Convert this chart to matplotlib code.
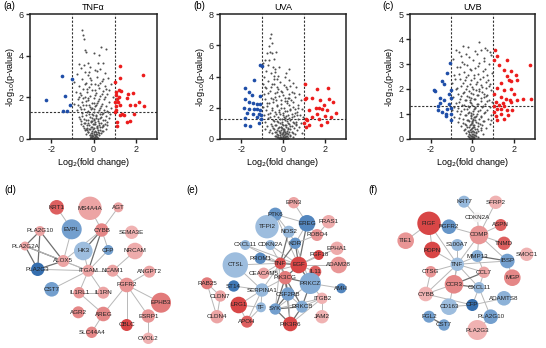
import numpy as np
import matplotlib.pyplot as plt
from matplotlib.colors import LinearSegmentedColormap, Normalize

plt.rcParams['font.family'] = ['Liberation Sans', 'DejaVu Sans']
plt.rcParams['axes.unicode_minus'] = False

# ---------------- volcano data ----------------
a_blue = [(-2.26, 1.86), (-1.50, 3.02), (-1.34, 2.07), (-1.02, 2.90), (-1.13, 1.61),
          (-1.42, 1.33), (-1.23, 1.33)]
a_red = [(1.27, 3.50), (2.34, 3.07), (1.27, 2.94), (1.00, 2.74), (1.08, 2.26), (1.19, 2.34),
         (1.32, 2.31), (1.05, 2.10), (1.11, 1.94), (1.21, 2.02), (1.00, 1.78), (1.16, 1.78),
         (1.05, 1.57), (1.24, 1.62), (1.08, 1.38), (1.65, 2.15), (1.85, 2.22), (1.56, 1.97),
         (2.13, 1.78), (1.97, 1.62), (1.73, 1.65), (2.37, 1.57), (1.92, 1.22), (1.35, 1.22),
         (1.44, 1.14), (1.24, 1.14), (1.11, 0.82), (1.56, 0.82), (1.73, 0.87), (1.11, 0.61),
         (1.03, 1.30)]
a_grey = [(-0.53, 5.23), (-0.48, 4.99), (-0.45, 4.78), (0.35, 4.43), (0.60, 4.30), (-0.40, 4.27),
          (-0.34, 4.19), (0.03, 4.11), (0.27, 4.03), (-0.69, 3.60), (-0.24, 3.63), (0.19, 3.66),
          (0.44, 3.63), (-0.61, 3.39), (-0.15, 3.45), (0.05, 3.30), (0.30, 3.35), (-0.40, 3.20),
          (-0.80, 3.10), (0.55, 3.15), (-0.25, 3.05), (0.15, 3.00), (0.70, 2.95), (-0.55, 2.90),
          (-0.10, 2.85), (0.38, 2.80), (-0.90, 2.75), (-0.35, 2.70), (0.05, 2.65), (0.85, 2.62),
          (0.55, 2.55), (-0.70, 2.55), (-0.20, 2.50), (0.25, 2.45), (-0.50, 2.40), (0.75, 2.35),
          (-0.05, 2.35), (0.45, 2.30), (-0.85, 2.28), (-0.30, 2.25), (0.10, 2.20), (0.65, 2.15),
          (-0.60, 2.12), (-0.15, 2.08), (0.30, 2.05), (0.90, 2.00), (-0.40, 2.00), (0.00, 1.95),
          (-0.75, 1.92), (0.50, 1.90), (-0.25, 1.85), (0.20, 1.82), (0.75, 1.78), (-0.55, 1.76),
          (-0.05, 1.72), (0.40, 1.70), (-0.90, 1.68), (-0.35, 1.65), (0.10, 1.62), (0.60, 1.60),
          (-0.65, 1.55), (-0.15, 1.52), (0.30, 1.50), (0.85, 1.48), (-0.45, 1.45), (0.00, 1.42),
          (0.50, 1.40), (-0.80, 1.38), (-0.25, 1.35), (0.20, 1.32), (0.70, 1.28), (-0.55, 1.25),
          (-0.05, 1.22), (0.40, 1.20), (-0.35, 1.15), (0.10, 1.12), (0.60, 1.10), (-0.70, 1.08),
          (-0.15, 1.05), (0.30, 1.02), (-0.45, 0.98), (0.00, 0.95), (0.45, 0.92), (-0.25, 0.90),
          (0.20, 0.88), (-0.60, 0.85), (0.65, 0.82), (-0.10, 0.80), (0.35, 0.78), (-0.40, 0.75),
          (0.05, 0.72), (0.55, 0.70), (-0.20, 0.68), (0.25, 0.65), (-0.50, 0.62), (-0.05, 0.60),
          (0.40, 0.58), (-0.30, 0.55), (0.15, 0.52), (0.60, 0.50), (-0.15, 0.48), (0.30, 0.45),
          (-0.40, 0.42), (0.05, 0.40), (0.45, 0.38), (-0.25, 0.35), (0.20, 0.33), (-0.05, 0.30),
          (0.35, 0.28), (-0.35, 0.25), (0.10, 0.22), (-0.15, 0.20), (0.25, 0.18), (-0.05, 0.15),
          (0.05, 0.12), (-0.10, 0.10), (0.15, 0.08), (0.00, 0.06), (-0.05, 0.04), (0.08, 0.03),
          (0.02, 0.01), (-0.02, 0.50), (0.02, 0.70), (-0.08, 0.85), (0.12, 1.00), (0.00, 1.30),
          (-0.12, 1.45), (0.08, 1.58),
          (-0.41, 2.62), (0.33, 2.71), (-0.18, 2.91), (0.08, 2.33), (-0.62, 2.21), (0.52, 2.04),
          (-0.27, 1.97), (0.17, 1.74), (-0.48, 1.61), (0.36, 1.57), (-0.09, 1.49), (0.24, 1.38),
          (-0.33, 1.31), (0.47, 1.27), (-0.21, 1.19), (0.13, 1.16), (-0.52, 1.09), (0.37, 1.04),
          (-0.07, 1.01), (0.21, 0.97), (-0.36, 0.93), (0.56, 0.89), (-0.14, 0.86), (0.09, 0.83),
          (-0.46, 0.79), (0.28, 0.76), (-0.03, 0.73), (0.43, 0.69), (-0.29, 0.66), (0.16, 0.63),
          (-0.11, 0.59), (0.33, 0.56), (-0.43, 0.53), (0.04, 0.51), (-0.19, 0.47), (0.22, 0.44),
          (-0.31, 0.41), (0.38, 0.39), (-0.08, 0.37), (0.12, 0.34), (-0.24, 0.32), (0.27, 0.29),
          (-0.13, 0.27), (0.03, 0.25), (0.18, 0.23), (-0.06, 0.21), (0.09, 0.19), (-0.18, 0.17),
          (0.13, 0.14), (-0.03, 0.13), (0.06, 0.11), (-0.12, 0.09), (0.21, 0.07), (-0.07, 0.06),
          (0.03, 0.05), (-0.01, 0.03), (0.11, 0.02), (-0.16, 0.04), (0.00, 0.35), (0.01, 0.90),
          (-0.02, 1.15), (0.04, 1.75), (-0.58, 1.42), (0.63, 1.33), (-0.66, 0.95), (0.71, 1.02),
          (-0.74, 1.65), (0.58, 2.42), (-0.45, 3.55), (0.18, 3.28), (-0.12, 2.62), (0.41, 2.15),
          (-0.37, 1.83), (0.28, 1.93), (-0.22, 1.63), (0.31, 1.22), (-0.26, 0.78), (0.18, 0.58),
          (-0.35, 0.48), (0.46, 0.62), (-0.57, 0.73), (0.66, 0.66), (-0.49, 1.99), (0.07, 2.12),
          (-0.31, 2.38), (0.22, 2.58), (-0.20, 3.20), (0.45, 2.90), (-0.70, 2.00), (0.80, 1.20)]

b_blue = [(-1.12, 4.73), (-1.01, 4.68), (-1.41, 3.76), (-1.81, 3.29), (-1.65, 3.02), (-1.49, 2.80),
          (-1.09, 2.76), (-1.81, 2.59), (-1.65, 2.37), (-1.44, 2.33), (-1.25, 2.27), (-1.09, 2.27),
          (-1.89, 2.01), (-1.65, 1.95), (-1.41, 1.90), (-1.25, 1.95), (-1.12, 1.84), (-1.73, 1.67),
          (-1.46, 1.63), (-1.17, 1.63), (-1.04, 1.52), (-1.84, 1.37), (-1.25, 1.41), (-1.06, 1.30),
          (-1.81, 0.88), (-1.57, 0.81), (-1.14, 1.03)]
b_red = [(1.04, 3.55), (1.60, 3.17), (2.14, 3.29), (1.10, 2.65), (1.02, 2.55), (1.39, 2.63),
         (1.76, 2.48), (2.19, 2.59), (2.38, 2.37), (1.95, 2.16), (1.55, 2.01), (1.71, 1.99),
         (1.87, 1.95), (1.23, 1.84), (2.11, 1.84), (2.51, 1.67), (1.60, 1.58), (1.39, 1.41),
         (2.00, 1.45), (2.30, 1.41), (1.07, 1.30), (1.15, 1.20), (1.71, 1.30), (1.01, 1.03),
         (1.23, 0.88), (1.79, 0.92), (2.11, 1.09), (1.07, 0.77)]
b_grey = [(-0.56, 6.70), (-0.61, 6.44), (-0.53, 6.12), (-0.69, 5.97), (-0.64, 5.58), (-0.77, 5.48),
          (-0.53, 5.48), (-0.85, 5.05), (-0.66, 5.05), (-0.45, 5.15), (-0.95, 4.85), (-0.72, 4.75),
          (-0.50, 4.60), (0.27, 4.45), (-0.37, 4.30), (-0.80, 4.35), (-0.60, 4.20), (-0.25, 4.05),
          (0.10, 3.95), (-0.90, 3.95), (-0.45, 3.85), (0.30, 3.80), (-0.70, 3.70), (-0.15, 3.65),
          (0.45, 3.60), (-0.95, 3.55), (-0.55, 3.50), (0.05, 3.45), (-0.30, 3.35), (0.60, 3.30),
          (-0.80, 3.25), (0.20, 3.20), (-0.10, 3.10), (-0.65, 3.05), (0.40, 3.00), (-0.40, 2.95),
          (0.75, 2.90), (-0.90, 2.85), (0.00, 2.80), (-0.20, 2.75), (0.55, 2.70), (-0.60, 2.65),
          (0.25, 2.60), (-0.85, 2.55), (-0.35, 2.50), (0.85, 2.48), (0.10, 2.42), (-0.50, 2.38),
          (0.45, 2.35), (-0.75, 2.30), (-0.10, 2.25), (0.70, 2.20), (0.30, 2.15), (-0.30, 2.10),
          (-0.95, 2.05), (0.05, 2.00), (-0.55, 1.98), (0.55, 1.95), (0.90, 1.90), (-0.20, 1.88),
          (-0.80, 1.85), (0.20, 1.80), (-0.40, 1.75), (0.65, 1.72), (0.00, 1.68), (-0.65, 1.65),
          (0.40, 1.62), (-0.15, 1.58), (0.80, 1.55), (-0.90, 1.52), (0.15, 1.50), (-0.45, 1.48),
          (0.50, 1.45), (-0.25, 1.40), (0.95, 1.38), (-0.70, 1.35), (0.30, 1.32), (-0.05, 1.30),
          (0.70, 1.25), (-0.50, 1.22), (0.10, 1.20), (-0.30, 1.15), (0.45, 1.12), (-0.85, 1.10),
          (0.85, 1.05), (-0.15, 1.05), (0.25, 1.00), (-0.60, 0.98), (0.60, 0.95), (0.00, 0.92),
          (-0.40, 0.90), (0.35, 0.85), (-0.75, 0.82), (-0.20, 0.80), (0.15, 0.78), (0.75, 0.75),
          (-0.50, 0.72), (0.50, 0.70), (-0.05, 0.68), (0.25, 0.62), (-0.30, 0.60), (-0.65, 0.58),
          (0.65, 0.55), (0.05, 0.52), (-0.15, 0.48), (0.40, 0.45), (-0.40, 0.42), (0.20, 0.40),
          (-0.55, 0.38), (0.55, 0.35), (-0.05, 0.35), (0.10, 0.30), (-0.25, 0.28), (0.35, 0.25),
          (-0.40, 0.22), (0.00, 0.20), (0.20, 0.18), (-0.15, 0.15), (0.45, 0.14), (-0.30, 0.12),
          (0.10, 0.10), (-0.05, 0.08), (0.25, 0.07), (-0.20, 0.05), (0.05, 0.04), (0.15, 0.02),
          (-0.10, 0.02), (0.00, 0.01), (-0.02, 0.45), (0.03, 0.60), (-0.08, 0.75), (0.08, 0.88),
          (0.32, 1.88), (0.18, 2.45), (-0.05, 3.00), (0.30, 2.65), (0.60, 1.10), (-0.88, 0.65),
          (0.88, 0.40),
          (-0.46, 3.52), (0.14, 3.31), (-0.23, 3.18), (-0.71, 2.96), (0.26, 2.88), (-0.38, 2.71),
          (0.38, 2.52), (-0.12, 2.47), (-0.66, 2.31), (0.19, 2.28), (-0.27, 2.16), (0.47, 2.07),
          (-0.08, 1.99), (0.33, 1.93), (-0.52, 1.87), (0.11, 1.77), (-0.19, 1.71), (0.58, 1.66),
          (-0.36, 1.61), (0.24, 1.55), (-0.03, 1.51), (0.41, 1.43), (-0.61, 1.39), (0.07, 1.36),
          (-0.14, 1.27), (0.32, 1.24), (-0.43, 1.18), (0.16, 1.14), (-0.24, 1.08), (0.53, 1.03),
          (-0.06, 0.99), (0.27, 0.96), (-0.34, 0.91), (0.12, 0.87), (-0.55, 0.84), (0.41, 0.81),
          (-0.11, 0.77), (0.21, 0.73), (-0.26, 0.69), (0.04, 0.66), (0.34, 0.63), (-0.44, 0.61),
          (-0.09, 0.56), (0.17, 0.54), (-0.21, 0.51), (0.28, 0.48), (-0.33, 0.46), (0.08, 0.43),
          (0.46, 0.41), (-0.13, 0.39), (0.14, 0.36), (-0.27, 0.34), (0.24, 0.31), (-0.07, 0.29),
          (0.05, 0.27), (-0.17, 0.24), (0.32, 0.22), (-0.36, 0.19), (0.15, 0.17), (-0.11, 0.15),
          (0.07, 0.13), (-0.24, 0.11), (0.18, 0.09), (-0.03, 0.07), (0.11, 0.06), (-0.13, 0.04),
          (0.03, 0.03), (-0.06, 0.02), (0.22, 0.04), (-0.02, 0.16), (0.01, 0.41), (0.00, 0.62),
          (-0.04, 1.12), (0.06, 1.42), (-0.49, 2.55), (-0.31, 3.02), (-0.58, 3.35), (0.09, 2.63),
          (-0.78, 2.12), (0.67, 1.55), (-0.71, 1.58), (0.62, 0.88), (-0.69, 0.48), (0.72, 1.98),
          (-0.41, 4.51), (-0.28, 3.86), (0.35, 3.41), (0.52, 2.95), (-0.88, 3.35), (0.15, 4.20),
          (-0.20, 4.60), (-0.35, 5.60), (-0.42, 4.05)]

c_blue = [(-1.06, 3.06), (-1.23, 2.65), (-1.44, 2.31), (-1.36, 2.19), (-1.81, 1.98), (-1.79, 1.91),
          (-1.04, 1.98), (-1.12, 1.82), (-1.04, 1.66), (-1.55, 1.66), (-1.36, 1.55), (-1.55, 1.44),
          (-1.65, 1.31), (-1.12, 1.42), (-1.04, 1.26), (-1.23, 1.19), (-1.47, 1.08), (-1.28, 1.02),
          (-1.01, 1.02), (-1.28, 0.91), (-1.04, 0.75), (-1.63, 1.15)]
c_red = [(1.09, 3.56), (1.20, 3.32), (1.04, 3.16), (1.68, 3.16), (2.77, 2.95), (1.28, 2.95),
         (1.52, 2.75), (1.84, 2.71), (2.08, 2.55), (1.65, 2.51), (1.76, 2.38), (1.87, 2.33),
         (2.16, 2.35), (1.36, 2.25), (1.17, 2.06), (1.52, 1.98), (1.84, 2.02), (2.00, 1.82),
         (1.04, 1.82), (1.36, 1.68), (1.60, 1.62), (1.81, 1.55), (2.16, 1.55), (2.45, 1.60),
         (2.80, 1.59), (1.12, 1.48), (1.49, 1.46), (1.84, 1.48), (1.07, 1.31), (1.28, 1.35),
         (1.52, 1.31), (1.92, 1.15), (1.20, 1.22), (1.68, 1.15), (1.36, 1.02), (1.71, 0.98),
         (1.12, 0.91), (1.52, 0.82), (1.20, 0.75), (1.04, 1.08), (1.39, 1.22)]
c_grey = [(0.32, 3.89), (-0.43, 3.72), (0.43, 3.56), (0.72, 3.58), (-0.80, 3.58), (-0.64, 3.49),
          (0.24, 3.42), (-0.32, 3.42), (0.90, 3.35), (-0.15, 3.30), (0.55, 3.25), (-0.90, 3.20),
          (0.05, 3.15), (-0.50, 3.10), (0.35, 3.05), (0.80, 3.00), (-0.25, 2.95), (-0.75, 2.90),
          (0.15, 2.85), (0.60, 2.80), (-0.05, 2.75), (-0.40, 2.70), (0.95, 2.65), (0.30, 2.62),
          (-0.85, 2.58), (-0.20, 2.55), (0.50, 2.50), (0.10, 2.45), (-0.60, 2.42), (0.75, 2.38),
          (-0.35, 2.35), (0.25, 2.30), (-0.95, 2.25), (-0.10, 2.22), (0.85, 2.20), (0.40, 2.15),
          (-0.55, 2.12), (0.00, 2.10), (0.65, 2.05), (-0.30, 2.02), (-0.80, 2.00), (0.20, 1.98),
          (0.90, 1.95), (-0.15, 1.92), (0.45, 1.88), (-0.45, 1.85), (0.05, 1.82), (-0.70, 1.80),
          (0.70, 1.78), (0.30, 1.75), (-0.25, 1.72), (-0.90, 1.70), (0.55, 1.68), (-0.05, 1.65),
          (0.15, 1.62), (-0.60, 1.60), (0.80, 1.58), (-0.35, 1.55), (0.40, 1.52), (0.95, 1.50),
          (-0.10, 1.48), (-0.80, 1.45), (0.25, 1.42), (0.60, 1.40), (-0.50, 1.38), (0.00, 1.35),
          (-0.20, 1.32), (0.85, 1.30), (0.45, 1.28), (-0.70, 1.25), (0.10, 1.22), (-0.40, 1.20),
          (0.70, 1.18), (-0.95, 1.15), (0.30, 1.12), (-0.15, 1.10), (0.55, 1.05), (-0.60, 1.02),
          (0.05, 1.00), (0.90, 0.98), (-0.30, 0.95), (0.20, 0.92), (-0.85, 0.90), (0.40, 0.88),
          (-0.05, 0.85), (0.75, 0.82), (-0.45, 0.80), (0.15, 0.78), (-0.20, 0.75), (0.55, 0.72),
          (-0.70, 0.70), (0.00, 0.68), (0.30, 0.65), (-0.35, 0.62), (0.85, 0.60), (-0.10, 0.58),
          (0.45, 0.55), (-0.55, 0.52), (0.10, 0.50), (-0.25, 0.48), (0.65, 0.45), (0.25, 0.42),
          (-0.05, 0.40), (-0.40, 0.38), (0.40, 0.35), (0.05, 0.32), (-0.15, 0.30), (0.20, 0.28),
          (-0.30, 0.25), (0.50, 0.22), (0.00, 0.20), (-0.10, 0.18), (0.15, 0.15), (-0.20, 0.12),
          (0.30, 0.10), (0.05, 0.08), (-0.05, 0.06), (0.10, 0.04), (-0.10, 0.03), (0.00, 0.02),
          (0.02, 0.55), (-0.02, 0.72), (0.08, 0.90), (-0.08, 1.05), (0.12, 1.30), (-0.12, 1.55),
          (0.35, 2.00), (-0.60, 2.90), (0.70, 2.55), (-0.88, 1.30), (0.92, 0.75),
          (-0.41, 3.02), (0.28, 2.92), (-0.12, 2.81), (0.52, 2.71), (-0.62, 2.62), (0.07, 2.58),
          (-0.31, 2.49), (0.39, 2.41), (-0.08, 2.36), (0.64, 2.29), (-0.46, 2.24), (0.19, 2.19),
          (-0.23, 2.13), (0.49, 2.08), (-0.71, 2.04), (0.03, 2.01), (0.34, 1.94), (-0.38, 1.88),
          (-0.07, 1.84), (0.58, 1.81), (0.22, 1.76), (-0.54, 1.73), (-0.17, 1.68), (0.41, 1.64),
          (0.09, 1.59), (-0.29, 1.56), (0.73, 1.53), (-0.63, 1.49), (-0.04, 1.46), (0.27, 1.41),
          (-0.41, 1.37), (0.52, 1.33), (-0.13, 1.29), (0.14, 1.26), (-0.27, 1.21), (0.36, 1.17),
          (-0.52, 1.14), (0.04, 1.11), (0.62, 1.08), (-0.19, 1.04), (0.22, 1.01), (-0.36, 0.97),
          (0.44, 0.94), (-0.08, 0.91), (0.13, 0.87), (-0.61, 0.84), (0.31, 0.81), (-0.26, 0.78),
          (0.02, 0.76), (0.52, 0.73), (-0.13, 0.71), (0.19, 0.68), (-0.43, 0.66), (0.36, 0.62),
          (-0.04, 0.61), (0.11, 0.57), (-0.29, 0.56), (0.26, 0.53), (-0.17, 0.49), (0.04, 0.47),
          (0.43, 0.44), (-0.36, 0.42), (0.14, 0.39), (-0.09, 0.37), (0.28, 0.34), (-0.21, 0.32),
          (0.07, 0.29), (-0.04, 0.27), (0.19, 0.24), (-0.14, 0.22), (0.03, 0.19), (0.11, 0.17),
          (-0.07, 0.14), (0.16, 0.12), (-0.17, 0.10), (0.02, 0.09), (0.09, 0.07), (-0.03, 0.05),
          (0.05, 0.03), (-0.09, 0.02), (0.00, 0.14), (0.01, 0.33), (-0.01, 0.45), (0.00, 0.64),
          (0.05, 0.82), (-0.05, 0.96), (0.66, 1.72), (-0.74, 1.12), (0.81, 2.12), (-0.83, 2.42),
          (0.58, 3.12), (-0.52, 3.32), (0.12, 3.52), (-0.20, 3.70), (0.62, 3.65), (0.85, 3.50)]

titles = ['TNF\u03b1', 'UVA', 'UVB']
ymaxes = [6, 8, 5]
yticks = [[0, 2, 4, 6], [0, 2, 4, 6, 8], [0, 1, 2, 3, 4, 5]]

# ---------------- network data ----------------
d_names = ['KRT1', 'MS4A4A', 'AGT', 'EVPL', 'PLA2G10', 'CYBB', 'SEMA3E', 'PLA2G2A', 'HK3',
           'CFP', 'NRCAM', 'ALOX5', 'ITGAM', 'NCAM1', 'PLA2G3', 'ANGPT2', 'FGFR2', 'CST7',
           'IL1RL1', 'IL1RN', 'EPHB3', 'AGR2', 'AREG', 'ESRP1', 'CBLC', 'SLC44A4', 'OVOL2']
d_fc = [1.6, 0.6, 0.6, -1.0, 0.6, 1.0, 0.4, 0.6, -0.5, -1.0, 0.5, 0.6, 0.6, 0.6, -2.0, 0.6,
        0.8, -1.0, 0.8, 0.6, 1.2, 1.0, 1.0, 0.8, 2.0, 1.0, 0.4]
d_score = [7.3, 11.7, 5, 10, 5, 6.7, 6.7, 4.5, 9.3, 5, 8.3, 6, 6, 6, 6.7, 6, 7.3, 7.3, 5.7, 6,
           10, 6, 7.3, 6.7, 6, 5.7, 5.7]
d_lx = [56.7, 90, 118.3, 71.7, 40, 101.7, 131.7, 25, 83.3, 108.3, 135, 63.3, 88.3, 112.7, 37.7,
        149.3, 126.7, 51.7, 79, 103.3, 161, 78.3, 103.3, 148.3, 126.7, 91.7, 148.3]
d_ly = [32.3, 33.3, 32.3, 54.3, 56, 55, 57.3, 71, 76, 75, 76, 86, 95.7, 95.7, 94.3, 96.7, 110,
        114.3, 117.7, 117.7, 127.7, 137.3, 139, 141, 150, 157.3, 163.3]
d_edges = [('KRT1', 'EVPL', 1), ('AGT', 'CYBB', 1), ('MS4A4A', 'CYBB', 1), ('CYBB', 'HK3', 2),
           ('CYBB', 'ITGAM', 2), ('CYBB', 'CFP', 1), ('CYBB', 'ALOX5', 1), ('EVPL', 'ALOX5', 1),
           ('PLA2G10', 'PLA2G2A', 2), ('PLA2G10', 'PLA2G3', 2), ('PLA2G10', 'ALOX5', 2),
           ('PLA2G2A', 'PLA2G3', 2), ('PLA2G2A', 'ALOX5', 2), ('PLA2G3', 'ALOX5', 2),
           ('PLA2G2A', 'ITGAM', 1), ('PLA2G3', 'ITGAM', 1), ('ALOX5', 'ITGAM', 1),
           ('HK3', 'ITGAM', 1), ('CFP', 'ITGAM', 1), ('ITGAM', 'NCAM1', 1), ('ITGAM', 'CST7', 1),
           ('ITGAM', 'IL1RL1', 1), ('ITGAM', 'IL1RN', 1), ('NCAM1', 'NRCAM', 1),
           ('NCAM1', 'FGFR2', 1), ('FGFR2', 'ANGPT2', 1), ('FGFR2', 'EPHB3', 1),
           ('FGFR2', 'ESRP1', 1), ('FGFR2', 'CBLC', 1), ('FGFR2', 'AREG', 1),
           ('IL1RL1', 'IL1RN', 1), ('IL1RL1', 'AREG', 1), ('AREG', 'SLC44A4', 1),
           ('ESRP1', 'OVOL2', 1)]

e_names = ['EPN3', 'PTK6', 'TFPI2', 'EREG', 'FRAS1', 'NOS2', 'ROBO4', 'CXCL11', 'CDKN2A', 'KDR',
           'EPHA1', 'PROM1', 'FGF18', 'CTSL', 'TNF', 'EGF', 'ADAM28', 'CEACAM5', 'IL11',
           'PIK3CG', 'PRKCZ', 'RAB25', 'ST14', 'SERPINA1', 'AMH', 'CLDN7', 'CSF2RB', 'ITGB2',
           'LRG1', 'TF', 'SYK', 'PRKCB', 'CLDN4', 'JAM2', 'APOH', 'PIK3R6']
e_fc = [0.6, -1.2, -0.5, -1.5, 0.5, -0.6, 0.8, -0.6, -0.6, -1.2, 0.5, -1.4, 2.0, -0.5, 1.8,
        2.0, 0.8, 0.6, 1.6, 1.2, -0.8, 1.2, -1.8, -0.6, -1.5, 0.6, -1.0, 0.4, 2.0, -0.6, -1.0,
        -0.8, 0.6, 0.4, 1.6, 2.0]
e_score = [5.7, 6.7, 11.7, 8.3, 6.7, 6, 6, 5, 5, 5.7, 6.7, 5.7, 5, 12.7, 5.7, 8.3, 8.3, 5.7, 6,
           6.7, 10.7, 6, 5.7, 6.7, 5, 5.7, 6.7, 5.7, 8.3, 5, 5.7, 6, 6.7, 6.7, 6, 7.3]
e_lx = [111.7, 93.3, 85, 125, 146.7, 106.7, 135, 63.3, 88.3, 113.3, 155, 78.3, 136.7, 53.3,
        98.3, 116.7, 156.7, 81.7, 133.3, 103.3, 128.3, 25, 51.7, 80, 159.3, 38.3, 106, 140,
        56.7, 79, 93.3, 120, 35, 140, 65, 108.3]
e_ly = [27.7, 39.3, 51.7, 48.3, 46.7, 56.7, 60, 70, 70, 68.3, 73.3, 83.3, 80, 90, 88.3, 90, 90,
        98.3, 96.7, 102.7, 108.3, 108.3, 111, 115, 113.3, 121, 119, 123.3, 130, 132.3, 134,
        131.7, 141.7, 141.7, 146.7, 149]
e_edges = [('EPN3', 'EREG', 1), ('PTK6', 'EREG', 1), ('PTK6', 'NOS2', 1), ('PTK6', 'EGF', 1),
           ('EREG', 'EGF', 2), ('EREG', 'KDR', 1), ('EREG', 'ROBO4', 1), ('FRAS1', 'ROBO4', 1),
           ('ROBO4', 'KDR', 1), ('NOS2', 'TNF', 2), ('NOS2', 'KDR', 1), ('CXCL11', 'TNF', 1),
           ('CDKN2A', 'TNF', 1), ('CDKN2A', 'EGF', 1), ('KDR', 'TNF', 2), ('KDR', 'EGF', 2),
           ('KDR', 'PRKCZ', 1), ('PROM1', 'TNF', 1), ('PROM1', 'EGF', 1), ('TNF', 'EGF', 2),
           ('TNF', 'CTSL', 1), ('TNF', 'CEACAM5', 1), ('TNF', 'PIK3CG', 2), ('TNF', 'SERPINA1', 1),
           ('TNF', 'CSF2RB', 1), ('TNF', 'SYK', 1), ('EGF', 'FGF18', 1), ('EGF', 'IL11', 1),
           ('EGF', 'PRKCZ', 2), ('EGF', 'PIK3CG', 2), ('EGF', 'EPHA1', 1), ('EGF', 'ADAM28', 1),
           ('EGF', 'CEACAM5', 1), ('PIK3CG', 'PRKCZ', 2), ('PIK3CG', 'CSF2RB', 2),
           ('PIK3CG', 'SYK', 2), ('PIK3CG', 'PIK3R6', 2), ('PIK3CG', 'PRKCB', 2),
           ('PRKCZ', 'PRKCB', 2), ('PRKCZ', 'ITGB2', 1), ('PRKCZ', 'SYK', 1),
           ('PRKCB', 'SYK', 2), ('PRKCB', 'PIK3R6', 2), ('SYK', 'PIK3R6', 2),
           ('CSF2RB', 'SYK', 2), ('CSF2RB', 'PRKCB', 1), ('SYK', 'ITGB2', 1),
           ('ITGB2', 'JAM2', 1), ('ITGB2', 'PRKCB', 1), ('SERPINA1', 'TF', 1),
           ('SERPINA1', 'APOH', 1), ('SERPINA1', 'LRG1', 1), ('TF', 'APOH', 1),
           ('LRG1', 'APOH', 1), ('LRG1', 'TF', 1), ('RAB25', 'CLDN7', 1), ('RAB25', 'CLDN4', 1),
           ('CLDN7', 'CLDN4', 1), ('ST14', 'SERPINA1', 1), ('SERPINA1', 'PIK3CG', 1),
           ('CTSL', 'SERPINA1', 1), ('CXCL11', 'EGF', 1), ('CSF2RB', 'PIK3R6', 1),
           ('ITGB2', 'PIK3R6', 1), ('AMH', 'PRKCZ', 1)]

f_names = ['KRT7', 'SFRP2', 'CDKN2A', 'FIGF', 'FGFR2', 'ASPN', 'TIE1', 'COMP', 'TNMD', 'S100A7',
           'PDPN', 'SMOC1', 'MMP13', 'IBSP', 'TNF', 'CTSG', 'CCL7', 'MGP', 'CCR3', 'CXCL11',
           'CYBB', 'ADAMTS8', 'CD163', 'CFP', 'FGL2', 'PLA2G10', 'CST7', 'PLA2G3']
f_fc = [-0.6, 0.4, 0.0, 2.0, -1.2, 1.6, 0.8, 0.8, 1.6, -0.6, 2.0, 0.4, -0.8, -1.0, -0.5, 0.8,
        0.6, 1.0, 1.0, -0.6, 0.4, -0.7, -0.5, -2.0, -1.0, -1.0, -1.0, 0.4]
f_score = [6, 6.7, 5, 11.7, 7.3, 6, 8.3, 9.3, 6.7, 6, 8.3, 6.7, 6, 7.3, 6.7, 5.7, 5.7, 8.3, 9.3,
           5.7, 7.3, 7.3, 8.3, 6, 6, 7.3, 5.7, 10]
f_lx = [100, 131.7, 113.3, 65, 85, 136.7, 41.7, 115, 140, 93.3, 68.3, 162.7, 113.3, 143.3, 93.3,
        66.7, 120, 148.3, 90, 115, 61.7, 140, 85, 108.3, 65, 126.7, 80, 113.3]
f_ly = [26.7, 27.3, 42.3, 48.3, 51.7, 50, 65.7, 60, 68.3, 70, 75, 79.3, 81, 86, 89.3, 96.7, 97.3,
        102.7, 109.3, 112.7, 119, 123.3, 131.7, 130, 141.7, 141.7, 150, 155]
f_edges = [('KRT7', 'CDKN2A', 1), ('CDKN2A', 'COMP', 1), ('SFRP2', 'COMP', 1),
           ('FIGF', 'FGFR2', 2), ('FIGF', 'TIE1', 1), ('FIGF', 'PDPN', 1), ('FIGF', 'TNF', 1),
           ('FGFR2', 'COMP', 1), ('COMP', 'ASPN', 1), ('COMP', 'TNMD', 1), ('COMP', 'MMP13', 1),
           ('COMP', 'IBSP', 1), ('COMP', 'TNF', 1), ('S100A7', 'TNF', 1), ('PDPN', 'TNF', 1),
           ('TNF', 'MMP13', 1), ('TNF', 'CCL7', 1), ('TNF', 'CCR3', 1), ('TNF', 'CTSG', 1),
           ('TNF', 'CXCL11', 1), ('TNF', 'CYBB', 1), ('TNF', 'CD163', 1), ('TNF', 'IBSP', 1),
           ('MMP13', 'IBSP', 2), ('MMP13', 'CCL7', 1), ('CCL7', 'CCR3', 2),
           ('CCL7', 'CXCL11', 1), ('CCR3', 'CXCL11', 2), ('CXCL11', 'CFP', 1),
           ('CYBB', 'CFP', 1), ('CYBB', 'CTSG', 1), ('CD163', 'CFP', 1), ('CFP', 'ADAMTS8', 1),
           ('IBSP', 'MGP', 1), ('CXCL11', 'PLA2G10', 1), ('PLA2G10', 'PLA2G3', 1),
           ('FGL2', 'CST7', 2), ('CCR3', 'CYBB', 1)]

# ---------------- figure ----------------
fig = plt.figure(figsize=(5.46, 3.48), dpi=100)
W, H = 546.0, 348.0

vol_left = [30, 220.3, 409.7]
vol_width = [127, 125.7, 125]
vol_sets = [(a_grey, a_blue, a_red), (b_grey, b_blue, b_red), (c_grey, c_blue, c_red)]
labels_top = ['(a)', '(b)', '(c)']

for i in range(3):
    ax = fig.add_axes([vol_left[i] / W, (H - 139) / H, vol_width[i] / W, 125 / H])
    grey, blue, red = [np.array(s) for s in vol_sets[i]]
    ax.scatter(grey[:, 0], grey[:, 1], s=2.2, color='#505050', lw=0, zorder=2)
    ax.scatter(blue[:, 0], blue[:, 1], s=7, color='#1f4ea8', lw=0, zorder=3)
    ax.scatter(red[:, 0], red[:, 1], s=7, color='#ec1c1c', lw=0, zorder=3)
    for xv in (-1, 1):
        ax.axvline(xv, color='#333333', lw=0.8, ls=(0, (2, 1.5)), zorder=1)
    ax.axhline(-np.log10(0.05), color='#333333', lw=0.8, ls=(0, (2, 1.5)), zorder=1)
    ax.set_xlim(-3, 3)
    ax.set_ylim(0, ymaxes[i])
    ax.set_xticks([-2, 0, 2])
    ax.set_yticks(yticks[i])
    for sp in ax.spines.values():
        sp.set_linewidth(1.1)
        sp.set_color('#222222')
    ax.tick_params(direction='out', length=3, width=1, labelsize=6.5, pad=1.5, colors='#222222')
    ax.set_xlabel(r'Log$_2$(fold change)', fontsize=6.5, labelpad=1.5)
    ax.set_ylabel(r'-log$_{10}$(p-value)', fontsize=6.5, labelpad=1.5)
    ax.set_title(titles[i], fontsize=6.5, pad=3)
    fig.text((vol_left[i] - 27) / W, 1 - 6 / H, labels_top[i], fontsize=7, va='center')

cmap = LinearSegmentedColormap.from_list(
    'fc', [(0, '#2a65a8'), (0.25, '#6b9acb'), (0.42, '#aac6e3'), (0.5, '#f6f6f6'),
           (0.58, '#f1b6b6'), (0.75, '#e38080'), (1, '#d63a3a')])
norm = Normalize(-2.2, 2.2)


def draw_network(x0, names, fc, score, lx, ly, edges, tag):
    ax = fig.add_axes([x0 / W, 0, 182 / W, 173 / H])
    ax.set_xlim(0, 182)
    ax.set_ylim(173, 0)
    ax.axis('off')
    pos = {n: (x, y) for n, x, y in zip(names, lx, ly)}
    for a, b, w in edges:
        (xa, ya), (xb, yb) = pos[a], pos[b]
        if w == 2:
            ax.plot([xa, xb], [ya, yb], color='#6f6f6f', lw=0.9, zorder=1)
        else:
            ax.plot([xa, xb], [ya, yb], color='#b8b8b8', lw=0.7, zorder=1)
    sizes = (1.44 * np.array(score)) ** 2
    ax.scatter(lx, ly, s=sizes, c=cmap(norm(np.array(fc))), lw=0, zorder=2)
    for n, x, y in zip(names, lx, ly):
        ax.text(x, y, n, fontsize=4.5, color='#222222', ha='center', va='center', zorder=3)
    ax.text(4, 15, tag, fontsize=7, va='center')


draw_network(0, d_names, d_fc, d_score, d_lx, d_ly, d_edges, '(d)')
draw_network(182, e_names, e_fc, e_score, e_lx, e_ly, e_edges, '(e)')
draw_network(364, f_names, f_fc, f_score, f_lx, f_ly, f_edges, '(f)')

fig.savefig('out.png', dpi=100)
